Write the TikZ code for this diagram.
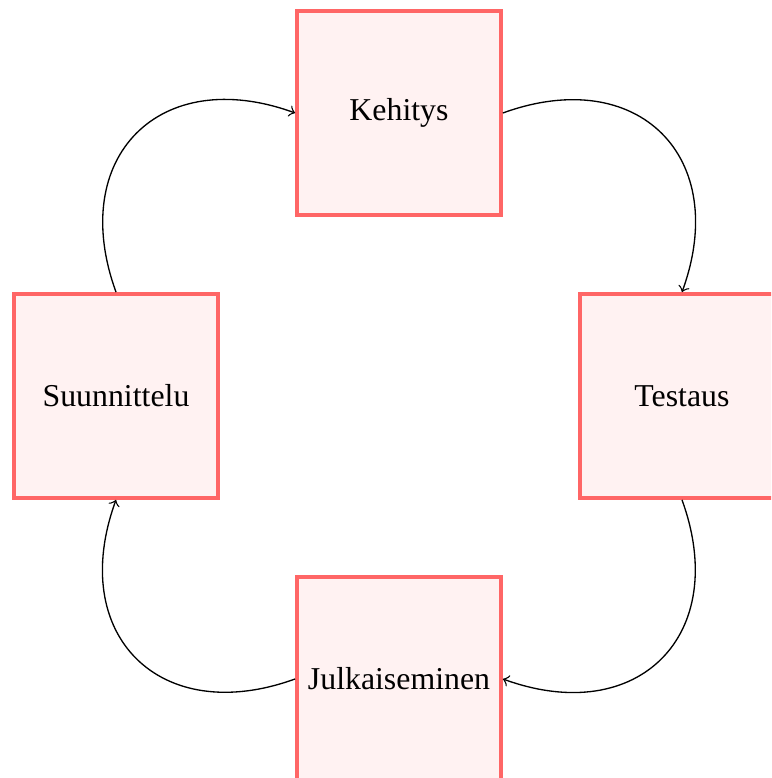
\documentclass[tikz,border=0pt]{standalone}
\usepackage{fontspec}
\setmainfont{Liberation Serif}
\tikzset{
	vaihe/.style={draw=red!60, fill=red!5, very thick, minimum size=2.16cm, inner sep=0pt, font=\fontsize{9.6pt}{11pt}\selectfont},
	kaari/.style={->, bend left=65, looseness=1.45}
}

\begin{document}
\begin{tikzpicture}
		\useasboundingbox(-4.23, -4.05)rectangle(3.944, 4.198);
		\clip(-4.23, -4.05)rectangle(3.944, 4.198);
		\node[vaihe](kehitys)at(0, 3){Kehitys};
		\node[vaihe](testaus)at(3, 0){Testaus};
		\node[vaihe](julkaisu)at(0, -3){Julkaiseminen};
		\node[vaihe](suunnittelu)at(-3, 0){Suunnittelu};
		\draw[kaari](suunnittelu.north)to(kehitys.west);
		\draw[kaari](kehitys.east)to(testaus.north);
		\draw[kaari](testaus.south)to(julkaisu.east);
		\draw[kaari](julkaisu.west)to(suunnittelu.south);
	\end{tikzpicture}
\end{document}
